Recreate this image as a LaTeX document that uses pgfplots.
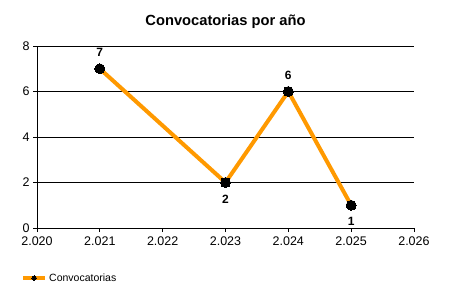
\documentclass[border=0pt]{standalone}
\usepackage{fontspec}
\setmainfont{Liberation Sans}
\usepackage{pgfplots}
\pgfplotsset{compat=1.18}
\definecolor{lineorange}{RGB}{255,153,0}
\begin{document}
\begin{tikzpicture}[x=1bp,y=1bp]
\begin{axis}[
  scale only axis,
  width=377bp, height=182bp,
  at={(0,0)}, anchor=south west,
  xmin=2020, xmax=2026, ymin=0, ymax=8,
  xtick={2020,...,2026}, ytick={0,2,4,6,8},
  axis x line*=bottom, axis y line*=left,
  axis line style={black, line width=0.8bp, -},
  ymajorgrids, grid style={black, line width=0.8bp},
  tick style={black, line width=0.8bp},
  tick align=outside, major tick length=4bp,
  x tick label style={/pgf/number format/1000 sep={.}, yshift=-1bp},
  /pgf/number format/assume math mode=true,
  tick label style={font=\fontsize{12.5bp}{14bp}\selectfont},
  clip=false,
  title={\bfseries Convocatorias por año},
  title style={font=\fontsize{14.7bp}{16bp}\selectfont\bfseries, at={(0.5,1)}, yshift=8bp, anchor=south},
  legend style={at={(-19bp,-50bp)}, anchor=west, draw=none, fill=none,
    font=\fontsize{10.5bp}{12bp}\selectfont, legend cell align=left},
  legend image code/.code={
    \draw[mark repeat=2, mark phase=2, #1] plot coordinates {(0bp,0bp) (11bp,0bp) (22bp,0bp)};
  },
]
\addplot[forget plot, lineorange, line width=4bp, mark=*, mark size=5bp,
  mark options={black, fill=black, line width=0pt},
  nodes near coords, point meta=explicit symbolic,
  visualization depends on={\thisrow{dy} \as \dy},
  every node near coord/.style={font=\fontsize{12bp}{14bp}\selectfont\bfseries, black, anchor=center, yshift=\dy bp},
] table[meta=lbl] {
x y lbl dy
2021 7 7 16
2023 2 2 -17
2024 6 6 16
2025 1 1 -16
};
\addlegendimage{lineorange, line width=4bp, mark=*, mark size=2.2bp, mark options={black, fill=black, line width=0pt}}
\addlegendentry{Convocatorias}
\end{axis}
\path[use as bounding box] (-37bp,-72bp) rectangle (413bp,228bp);
\end{tikzpicture}
\end{document}
